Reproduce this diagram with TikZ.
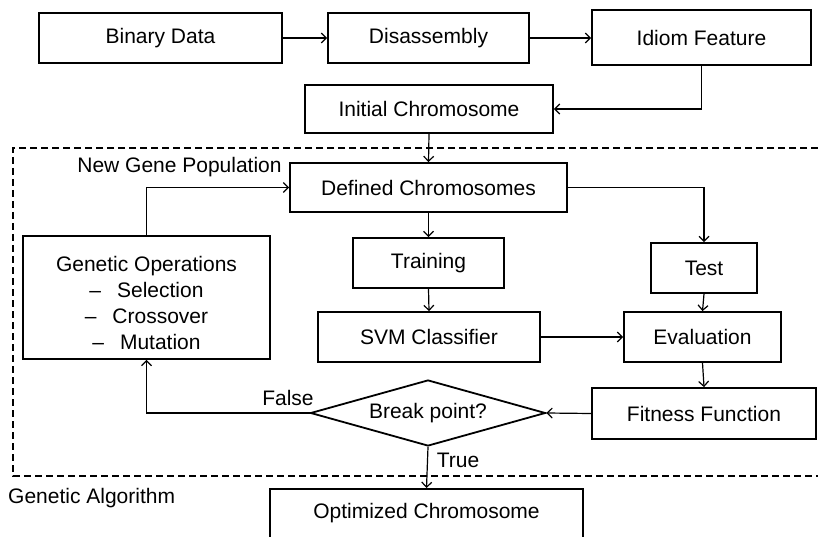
\documentclass[tikz,border=0pt]{standalone}
\usepackage{fontspec}
\setmainfont{Liberation Sans}
\usetikzlibrary{shapes.geometric,arrows.meta}
\begin{document}
\begin{tikzpicture}[x=1pt,y=-1pt,
  every node/.style={font=\fontsize{21}{26}\selectfont},
  box/.style={draw,line width=1.8pt,rectangle,inner sep=0pt},
  conn/.style={line width=1.2pt,-{Straight Barb[length=5pt,width=10pt,line width=1.2pt]}},
  plain/.style={line width=1.2pt}]
\useasboundingbox (0,0) rectangle (818,537);
\node[box,minimum width=243pt,minimum height=50pt] (bin) at (160.5,38) {Binary Data};
\node[box,minimum width=201pt,minimum height=50pt] (dis) at (428.5,38) {Disassembly};
\node[box,minimum width=219pt,minimum height=55pt] (idi) at (701.5,37.5) {Idiom Feature};
\node[box,minimum width=248pt,minimum height=48pt] (ini) at (429,109) {Initial Chromosome};
\node[box,minimum width=277pt,minimum height=49pt] (def) at (428.5,187.5) {Defined Chromosomes};
\node[box,minimum width=247pt,minimum height=123pt,align=center] (gen) at (146.5,297.5)
  {\rule{0pt}{27pt}Genetic Operations\\ –\hspace{16pt}Selection\\ –\hspace{16pt}Crossover\\ –\hspace{16pt}Mutation};
\node[box,minimum width=151pt,minimum height=50pt] (tra) at (428.5,263) {Training};
\node[box,minimum width=222pt,minimum height=50pt] (svm) at (429,337) {SVM Classifier};
\node[box,minimum width=106pt,minimum height=50pt] (tes) at (704,268) {Test};
\node[box,minimum width=157pt,minimum height=50pt] (eva) at (702.5,337) {Evaluation};
\node[box,minimum width=224pt,minimum height=51pt] (fit) at (704,413.5) {Fitness Function};
\node[draw,line width=1.8pt,diamond,aspect=3.56,inner sep=0pt,minimum width=235pt,minimum height=66pt] (dia) at (428,413) {Break point?};
\node[box,minimum width=313pt,minimum height=60pt,anchor=north] (opt) at (426.5,488) {};
\node (optt) at (426.5,513) {Optimized Chromosome};
\node (ngp) at (179.5,167) {New Gene Population};
\node[anchor=west,inner sep=0pt] (ga) at (8,498) {Genetic Algorithm};
\node (fls) at (288,398) {False};
\node (tru) at (458,460) {True};
\draw[line width=1.8pt,dash pattern=on 7pt off 4pt] (818,148) -- (13,148) -- (13,476) -- (818,476);
\draw[conn] (bin) -- (dis);
\draw[conn] (dis) -- (idi.west |- dis.east);
\draw[conn] (idi.south) |- (ini.east);
\draw[conn] (ini.south) -- (def.north);
\draw[conn] (gen.north) |- (def.west);
\draw[conn] (def.south) -- (tra.north);
\draw[conn] (tra.south) -- (svm.north);
\draw[conn] (def.east) -| (tes.north);
\draw[conn] (tes.south) -- (eva.north);
\draw[conn] (svm.east) -- (eva.west);
\draw[conn] (eva.south) -- (fit.north);
\draw[conn] (fit.west) -- (dia.east);
\draw[conn] (dia.west) -| (gen.south);
\draw[conn] (dia.south) -- (opt.north);
\end{tikzpicture}
\end{document}
